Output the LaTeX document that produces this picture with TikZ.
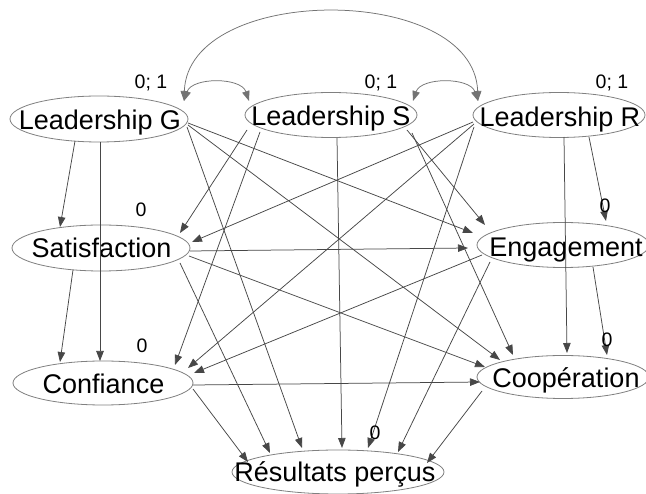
\documentclass[tikz,border=0pt]{standalone}
\usepackage{fontspec}
\setmainfont{Liberation Sans}
\usetikzlibrary{shapes.geometric,arrows.meta,calc}
\begin{document}
\begin{tikzpicture}[x=1pt,y=-1pt,
  lat/.style={ellipse, draw=black!50, line width=0.8pt, inner sep=0pt, outer sep=0pt},
  nm/.style={font=\fontsize{27}{30}\selectfont, text=black, inner sep=0pt, anchor=base},
  lbl/.style={font=\fontsize{19.5}{22}\selectfont, text=black, inner sep=0pt, anchor=base},
  tip/.style={-{Triangle[length=10pt,width=7.5pt]}},
  arr/.style={draw=black!72, line width=0.75pt, tip},
  dbl/.style={draw=black!55, line width=0.75pt, {Triangle[length=10pt,width=7.5pt]}-{Triangle[length=10pt,width=7.5pt]}}]
\useasboundingbox (0,0) rectangle (646,494);
\fill[white] (0,0) rectangle (646,494);
% latent variables
\node[lat, minimum width=178pt, minimum height=46pt] (LG) at (99,119) {};
\node[lat, minimum width=172pt, minimum height=45pt] (LS) at (331,115) {};
\node[lat, minimum width=172pt, minimum height=45pt] (LR) at (559,115) {};
\node[lat, minimum width=178pt, minimum height=46pt] (Sat) at (101,248) {};
\node[lat, minimum width=180pt, minimum height=44pt] (Conf) at (103,383) {};
\node[lat, minimum width=172pt, minimum height=45pt] (Eng) at (563,245) {};
\node[lat, minimum width=172pt, minimum height=43pt] (Coop) at (563,377) {};
\node[lat, minimum width=212pt, minimum height=44pt] (Res) at (338,472) {};
% names
\node[nm] (tLG) at (100,130) {Leadership G};
\node[nm] (tLS) at (331,126) {Leadership S};
\node[nm] (tLR) at (560,127) {Leadership R};
\node[nm] (tSat) at (101.5,258) {Satisfaction};
\node[nm] (tConf) at (103.5,394) {Confiance};
\node[nm] (tEng) at (566,257) {Engagement};
\node[nm] (tCoop) at (566,388) {Coopération};
\node[nm] (tRes) at (335,482) {Résultats perçus};
% covariances
\draw[dbl] ($(LG)+(85,-18)$) .. controls +(8,-24) and +(-8,-24) .. ($(LS)+(-82,-14)$);
\draw[dbl] ($(LS)+(82,-14)$) .. controls +(8,-24) and +(-8,-24) .. ($(LR)+(-81,-14)$);
\draw[dbl] ($(LG)+(85,-18)$) .. controls +(4,-118) and +(-4,-118) .. ($(LR)+(-81,-14)$);
% regressions
\draw[arr] ($(LG)+(-24,22)$) -- ($(Sat)+(-41,-21)$);
\draw[arr] ($(LG)+(1,23)$) -- ($(Conf)+(-3,-22)$);
\draw[arr] ($(Sat)+(-28,22)$) -- ($(Conf)+(-43,-21)$);
\draw[arr] ($(LS)+(-84,15)$) -- ($(Sat)+(79,-15)$);
\draw[arr] ($(LR)+(-86,7)$) -- ($(Sat)+(91,-6)$);
\draw[arr] ($(LS)+(-71,17)$) -- ($(Conf)+(72,-18)$);
\draw[arr] ($(LR)+(-85,9)$) -- ($(Conf)+(85,-15)$);
\draw[arr] ($(Eng)+(-81,10)$) -- ($(Conf)+(91,-10)$);
\draw[arr] ($(Sat)+(89,3)$) -- ($(Eng)+(-95,3)$);
\draw[arr] ($(LG)+(89,4)$) -- ($(Eng)+(-90,-12)$);
\draw[arr] ($(LS)+(76,15)$) -- ($(Eng)+(-78,-20)$);
\draw[arr] ($(LR)+(30,22)$) -- ($(Eng)+(43,-24)$);
\draw[arr] ($(LR)+(5,22)$) -- ($(Coop)+(4,-24)$);
\draw[arr] ($(Eng)+(30,22)$) -- ($(Coop)+(44,-22)$);
\draw[arr] ($(LG)+(89,6)$) -- ($(Coop)+(-63,-17)$);
\draw[arr] ($(Sat)+(88,8)$) -- ($(Coop)+(-78,-10)$);
\draw[arr] ($(LS)+(81,18)$) -- ($(Coop)+(-50,-22)$);
\draw[arr] ($(Conf)+(90,2)$) -- ($(Coop)+(-83,5)$);
\draw[arr] ($(LG)+(88,8)$) -- ($(Res)+(-36,-24)$);
\draw[arr] ($(Sat)+(79,15)$) -- ($(Res)+(-68,-19)$);
\draw[arr] ($(Conf)+(90,6)$) -- ($(Res)+(-90,-10)$);
\draw[arr] ($(LS)+(6,23)$) -- ($(Res)+(4,-24)$);
\draw[arr] ($(LR)+(-85,12)$) -- ($(Res)+(30,-24)$);
\draw[arr] ($(Eng)+(-73,17)$) -- ($(Res)+(60,-20)$);
\draw[arr] ($(Coop)+(-81,14)$) -- ($(Res)+(89,-9)$);
% parameter labels
\node[lbl] (pLG) at (151,89) {0; 1};
\node[lbl] (pLS) at (381,89) {0; 1};
\node[lbl] (pLR) at (612,89) {0; 1};
\node[lbl] (pSat) at (141,217) {0};
\node[lbl] (pConf) at (142,353) {0};
\node[lbl] (pEng) at (605,213) {0};
\node[lbl] (pCoop) at (607,347) {0};
\node[lbl] (pRes) at (375,440) {0};
\end{tikzpicture}
\end{document}
